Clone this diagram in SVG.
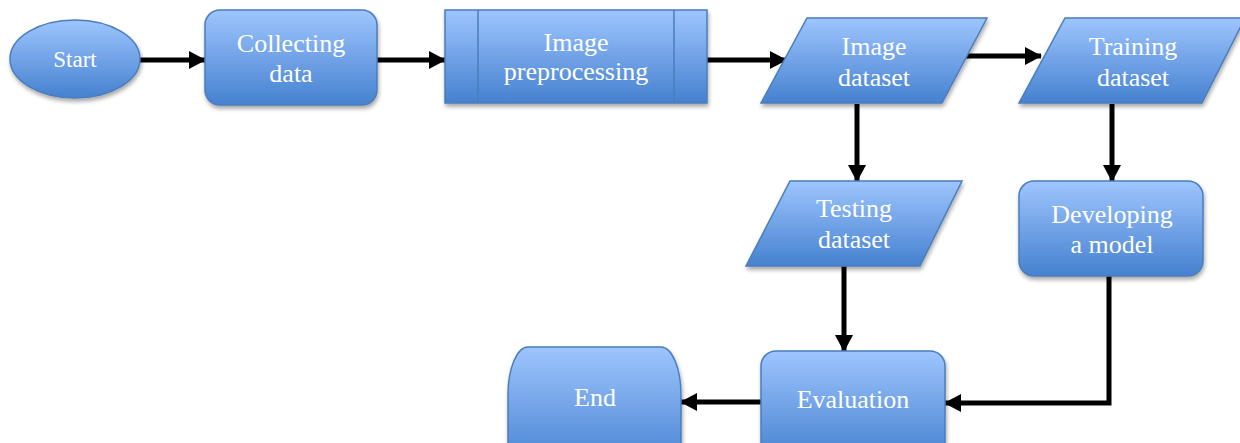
<svg xmlns="http://www.w3.org/2000/svg" width="1240" height="443" viewBox="0 0 1240 443">
<defs>
<linearGradient id="g" x1="0" y1="0" x2="0" y2="1">
<stop offset="0" stop-color="#9ec5fe"/>
<stop offset="1" stop-color="#4581d0"/>
</linearGradient>
<filter id="sh" x="-10%" y="-10%" width="120%" height="130%">
<feGaussianBlur in="SourceAlpha" stdDeviation="2"/>
<feOffset dx="1" dy="3" result="o"/>
<feComponentTransfer><feFuncA type="linear" slope="0.35"/></feComponentTransfer>
<feMerge><feMergeNode/><feMergeNode in="SourceGraphic"/></feMerge>
</filter>
<marker id="ah" markerUnits="userSpaceOnUse" markerWidth="17" markerHeight="18" refX="16" refY="9" orient="auto">
<path d="M0,0 L17,9 L0,18 Z" fill="#000"/>
</marker>
</defs>
<style>
.s{fill:url(#g);stroke:#4a7ebb;stroke-width:1.5;filter:url(#sh)}
.t{font-family:"Liberation Serif",serif;font-size:26px;fill:#fff;text-anchor:middle}
.c{fill:none;stroke:#000;stroke-width:5;marker-end:url(#ah)}
</style>
<g id="connectors">
<path class="c" d="M140,60 H205"/>
<path class="c" d="M377,60 H445"/>
<path class="c" d="M707,60 H786"/>
<path class="c" d="M966,56 H1041"/>
<path class="c" d="M857,104 V181"/>
<path class="c" d="M1112,104 V181"/>
<path class="c" d="M844,266 V351"/>
<path class="c" d="M1109,276 V403 H945"/>
<path class="c" d="M761,402 H681"/>
</g>
<g id="start">
<ellipse class="s" cx="75" cy="59" rx="65" ry="39"/>
<text class="t" x="75" y="67" style="font-size:23px">Start</text>
</g>
<g id="collecting">
<rect class="s" x="205" y="10" width="172" height="95" rx="15"/>
<text class="t" x="291" y="52">Collecting</text>
<text class="t" x="291" y="82">data</text>
</g>
<g id="preprocessing">
<rect class="s" x="445" y="10" width="262" height="93"/>
<line x1="478" y1="10" x2="478" y2="103" stroke="#4a7ebb" stroke-width="1.5"/>
<line x1="674" y1="10" x2="674" y2="103" stroke="#4a7ebb" stroke-width="1.5"/>
<text class="t" x="576" y="51">Image</text>
<text class="t" x="576" y="80">preprocessing</text>
</g>
<g id="image-dataset">
<polygon class="s" points="807,18 987,18 942,103 761,103"/>
<text class="t" x="874" y="55">Image</text>
<text class="t" x="874" y="86">dataset</text>
</g>
<g id="training-dataset">
<polygon class="s" points="1065,18 1245,18 1202,103 1019,103"/>
<text class="t" x="1133" y="55">Training</text>
<text class="t" x="1133" y="86">dataset</text>
</g>
<g id="testing-dataset">
<polygon class="s" points="790,181 962,181 920,266 746,266"/>
<text class="t" x="854" y="217">Testing</text>
<text class="t" x="854" y="248">dataset</text>
</g>
<g id="developing">
<rect class="s" x="1019" y="181" width="184" height="95" rx="15"/>
<text class="t" x="1112" y="223">Developing</text>
<text class="t" x="1112" y="253">a model</text>
</g>
<g id="evaluation">
<rect class="s" x="761" y="351" width="184" height="110" rx="15"/>
<text class="t" x="853" y="408">Evaluation</text>
</g>
<g id="end">
<path class="s" d="M528,347 H661 A20,48 0 0 1 681,395 V470 H508 V395 A20,48 0 0 1 528,347 Z"/>
<text class="t" x="595" y="406">End</text>
</g>
</svg>
